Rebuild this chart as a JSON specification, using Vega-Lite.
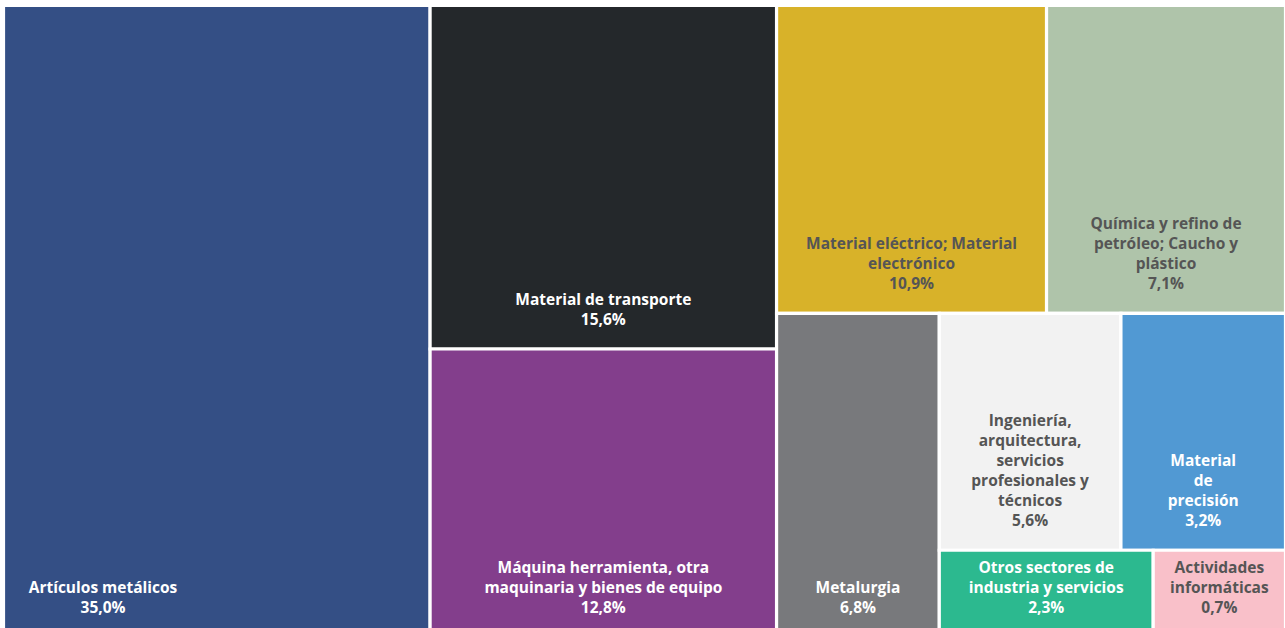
{
  "$schema": "https://vega.github.io/schema/vega-lite/v6.json",
  "width": 1282,
  "height": 631,
  "autosize": {"type": "none"},
  "padding": {"left": 3.5, "top": 5.5, "right": 0, "bottom": 0},
  "background": "#ffffff",
  "config": {"view": {"stroke": null}, "text": {"font": "Open Sans", "fontSize": 15.5, "fontWeight": "bold", "align": "center", "baseline": "bottom", "lineBreak": "\n", "lineHeight": 20}},
  "data": {
    "values": [
      {"sector": "Artículos metálicos", "lineas": "Artículos metálicos", "pct": 35.0, "peso": 33.27, "n1": 1, "n2": 1, "n3": 1, "n4": 1, "n5": 1},
      {"sector": "Material de transporte", "lineas": "Material de transporte", "pct": 15.6, "peso": 14.71, "n1": 2, "n2": 1, "n3": 1, "n4": 1, "n5": 1},
      {"sector": "Máquina herramienta, otra maquinaria y bienes de equipo", "lineas": "Máquina herramienta, otra\nmaquinaria y bienes de equipo", "pct": 12.8, "peso": 12.31, "n1": 2, "n2": 2, "n3": 1, "n4": 1, "n5": 1},
      {"sector": "Material eléctrico; Material electrónico", "lineas": "Material eléctrico; Material\nelectrónico", "pct": 10.9, "peso": 10.27, "n1": 3, "n2": 1, "n3": 1, "n4": 1, "n5": 1},
      {"sector": "Química y refino de petróleo; Caucho y plástico", "lineas": "Química y refino de\npetróleo; Caucho y\nplástico", "pct": 7.1, "peso": 9.09, "n1": 3, "n2": 1, "n3": 2, "n4": 1, "n5": 1},
      {"sector": "Metalurgia", "lineas": "Metalurgia", "pct": 6.8, "peso": 6.50, "n1": 3, "n2": 2, "n3": 1, "n4": 1, "n5": 1},
      {"sector": "Ingeniería, arquitectura, servicios profesionales y técnicos", "lineas": "Ingeniería,\narquitectura,\nservicios\nprofesionales y\ntécnicos", "pct": 5.6, "peso": 5.32, "n1": 3, "n2": 2, "n3": 2, "n4": 1, "n5": 1},
      {"sector": "Material de precisión", "lineas": "Material\nde\nprecisión", "pct": 3.2, "peso": 4.82, "n1": 3, "n2": 2, "n3": 2, "n4": 1, "n5": 2},
      {"sector": "Otros sectores de industria y servicios", "lineas": "Otros sectores de\nindustria y servicios", "pct": 2.3, "peso": 2.28, "n1": 3, "n2": 2, "n3": 2, "n4": 2, "n5": 1},
      {"sector": "Actividades informáticas", "lineas": "Actividades\ninformáticas", "pct": 0.7, "peso": 1.41, "n1": 3, "n2": 2, "n3": 2, "n4": 2, "n5": 2}
    ]
  },
  "transform": [
    {"stack": "peso", "groupby": [], "sort": [{"field": "n1"}, {"field": "n2"}, {"field": "n3"}, {"field": "n4"}, {"field": "n5"}], "offset": "normalize", "as": ["s1a", "s1b"]},
    {"joinaggregate": [{"op": "min", "field": "s1a", "as": "x0"}, {"op": "max", "field": "s1b", "as": "x1"}], "groupby": ["n1"]},
    {"stack": "peso", "groupby": ["n1"], "sort": [{"field": "n2"}, {"field": "n3"}, {"field": "n4"}, {"field": "n5"}], "offset": "normalize", "as": ["s2a", "s2b"]},
    {"joinaggregate": [{"op": "min", "field": "s2a", "as": "y0"}, {"op": "max", "field": "s2b", "as": "y1"}], "groupby": ["n1", "n2"]},
    {"stack": "peso", "groupby": ["n1", "n2"], "sort": [{"field": "n3"}, {"field": "n4"}, {"field": "n5"}], "offset": "normalize", "as": ["s3a", "s3b"]},
    {"joinaggregate": [{"op": "min", "field": "s3a", "as": "f3a"}, {"op": "max", "field": "s3b", "as": "f3b"}], "groupby": ["n1", "n2", "n3"]},
    {"calculate": "datum.x0 + (datum.x1 - datum.x0) * datum.f3a", "as": "xx0"},
    {"calculate": "datum.x0 + (datum.x1 - datum.x0) * datum.f3b", "as": "xx1"},
    {"stack": "peso", "groupby": ["n1", "n2", "n3"], "sort": [{"field": "n4"}, {"field": "n5"}], "offset": "normalize", "as": ["s4a", "s4b"]},
    {"joinaggregate": [{"op": "min", "field": "s4a", "as": "f4a"}, {"op": "max", "field": "s4b", "as": "f4b"}], "groupby": ["n1", "n2", "n3", "n4"]},
    {"calculate": "datum.y0 + (datum.y1 - datum.y0) * datum.f4a", "as": "yy0"},
    {"calculate": "datum.y0 + (datum.y1 - datum.y0) * datum.f4b", "as": "yy1"},
    {"stack": "peso", "groupby": ["n1", "n2", "n3", "n4"], "sort": [{"field": "n5"}], "offset": "normalize", "as": ["s5a", "s5b"]},
    {"calculate": "datum.xx0 + (datum.xx1 - datum.xx0) * datum.s5a", "as": "X0"},
    {"calculate": "datum.xx0 + (datum.xx1 - datum.xx0) * datum.s5b", "as": "X1"},
    {"calculate": "(datum.X0 + datum.X1) / 2", "as": "cx"},
    {"calculate": "datum.lineas + '\\n' + replace(format(datum.pct, '.1f'), '.', ',') + '%'", "as": "label"},
    {"calculate": "length(split(datum.label, '\\n'))", "as": "nl"},
    {"calculate": "indexof(['Material eléctrico; Material electrónico', 'Química y refino de petróleo; Caucho y plástico', 'Ingeniería, arquitectura, servicios profesionales y técnicos', 'Actividades informáticas'], datum.sector) >= 0", "as": "claro"}
  ],
  "layer": [
    {
      "mark": {"type": "rect", "stroke": "#ffffff", "strokeWidth": 3.2},
      "encoding": {
        "x": {"field": "X0", "type": "quantitative", "scale": {"domain": [0, 1], "nice": false, "zero": false}, "axis": null},
        "x2": {"field": "X1"},
        "y": {"field": "yy0", "type": "quantitative", "scale": {"domain": [0, 1], "nice": false, "zero": false, "reverse": true}, "axis": null},
        "y2": {"field": "yy1"},
        "color": {
          "field": "sector", "type": "nominal", "legend": null,
          "scale": {
            "domain": ["Artículos metálicos", "Material de transporte", "Máquina herramienta, otra maquinaria y bienes de equipo", "Material eléctrico; Material electrónico", "Química y refino de petróleo; Caucho y plástico", "Metalurgia", "Ingeniería, arquitectura, servicios profesionales y técnicos", "Material de precisión", "Otros sectores de industria y servicios", "Actividades informáticas"],
            "range": ["#344f85", "#24282b", "#833e8c", "#d8b229", "#afc4aa", "#78797c", "#f2f2f2", "#5199d3", "#2cb98f", "#f9c0c9"]
          }
        },
        "tooltip": [{"field": "sector", "type": "nominal"}, {"field": "pct", "type": "quantitative"}]
      }
    },
    {
      "transform": [{"filter": "datum.nl === 2 && datum.sector !== 'Artículos metálicos'"}],
      "mark": {"type": "text", "dy": -41},
      "encoding": {
        "x": {"field": "cx", "type": "quantitative"},
        "y": {"field": "yy1", "type": "quantitative"},
        "text": {"field": "label", "type": "nominal"},
        "color": {"condition": {"test": "datum.claro", "value": "#555555"}, "value": "#ffffff"}
      }
    },
    {
      "transform": [{"filter": "datum.nl === 3"}],
      "mark": {"type": "text", "dy": -61},
      "encoding": {
        "x": {"field": "cx", "type": "quantitative"},
        "y": {"field": "yy1", "type": "quantitative"},
        "text": {"field": "label", "type": "nominal"},
        "color": {"condition": {"test": "datum.claro", "value": "#555555"}, "value": "#ffffff"}
      }
    },
    {
      "transform": [{"filter": "datum.nl === 4"}],
      "mark": {"type": "text", "dy": -81},
      "encoding": {
        "x": {"field": "cx", "type": "quantitative"},
        "y": {"field": "yy1", "type": "quantitative"},
        "text": {"field": "label", "type": "nominal"},
        "color": {"condition": {"test": "datum.claro", "value": "#555555"}, "value": "#ffffff"}
      }
    },
    {
      "transform": [{"filter": "datum.nl === 6"}],
      "mark": {"type": "text", "dy": -121},
      "encoding": {
        "x": {"field": "cx", "type": "quantitative"},
        "y": {"field": "yy1", "type": "quantitative"},
        "text": {"field": "label", "type": "nominal"},
        "color": {"condition": {"test": "datum.claro", "value": "#555555"}, "value": "#ffffff"}
      }
    },
    {
      "transform": [{"filter": "datum.sector === 'Artículos metálicos'"}],
      "mark": {"type": "text", "dy": -41, "dx": 99.5, "color": "#ffffff"},
      "encoding": {
        "x": {"field": "X0", "type": "quantitative"},
        "y": {"field": "yy1", "type": "quantitative"},
        "text": {"field": "label", "type": "nominal"}
      }
    }
  ]
}
